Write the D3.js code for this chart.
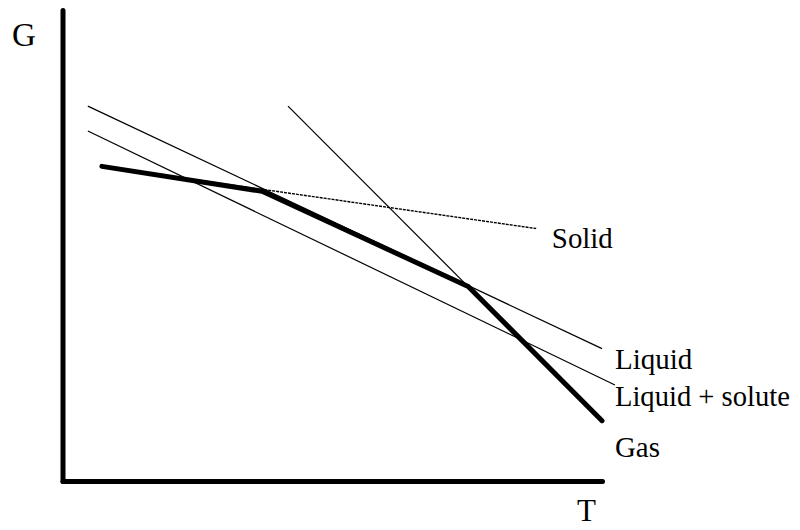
<!DOCTYPE html>
<html>
<head>
<meta charset="utf-8">
<script src="https://cdn.jsdelivr.net/npm/d3@7/dist/d3.min.js"></script>
<style>
  html, body { margin: 0; padding: 0; background: #fff; }
  text { font-family: "Liberation Serif", "Times New Roman", serif; fill: #000; }
</style>
</head>
<body>
<svg id="chart" width="800" height="530"></svg>
<script>
// Data (abstract units: T and G on 0..100)
const solidLine = [[7.3, 66.8], [87.8, 53.6]];
const liquidLine = [[4.7, 79.6], [100, 28.1]];
const liquidSoluteLine = [[4.7, 74.3], [102.4, 20.4]];
const gasLine = [[41.8, 79.6], [100, 12.8]];
const minEnvelope = [[7.3, 66.8], [37.0, 61.5], [75.2, 41.3], [100, 12.8]];
const seriesLabels = ["Solid", "Liquid", "Liquid + solute", "Gas"];
const labelPositions = [[90.7, 49.4], [102.4, 23.8], [102.4, 15.9], [102.4, 5.1]];
const axisLabels = ["G", "T"];

const svg = d3.select("#chart");
const x = d3.scaleLinear().domain([0, 100]).range([62.5, 602]);
const y = d3.scaleLinear().domain([0, 100]).range([481, 10]);

const line = d3.line().x(d => x(d[0])).y(d => y(d[1]));

// axes
svg.append("g").attr("transform", `translate(${x(0)},0)`)
  .call(d3.axisLeft(y).tickValues([]).tickSizeOuter(0));
svg.append("g").attr("transform", `translate(0,${y(0)})`)
  .call(d3.axisBottom(x).tickValues([]).tickSizeOuter(0));
svg.selectAll(".domain").attr("stroke", "#000").attr("stroke-width", 5)
  .attr("stroke-linecap", "round");

// thin lines
svg.append("path").datum(solidLine).attr("d", line)
  .attr("fill", "none").attr("stroke", "#000").attr("stroke-width", 1.4)
  .attr("stroke-dasharray", "3,1");
[liquidLine, liquidSoluteLine, gasLine].forEach(d => {
  svg.append("path").datum(d).attr("d", line)
    .attr("fill", "none").attr("stroke", "#000").attr("stroke-width", 1.2);
});

// thick envelope
svg.append("path").datum(minEnvelope).attr("d", line)
  .attr("fill", "none").attr("stroke", "#000").attr("stroke-width", 5)
  .attr("stroke-linecap", "round").attr("stroke-linejoin", "round");

// series labels
svg.selectAll("text.lab").data(seriesLabels).enter().append("text")
  .attr("class", "lab")
  .attr("x", (d, i) => x(labelPositions[i][0]))
  .attr("y", (d, i) => y(labelPositions[i][1]))
  .attr("font-size", 29)
  .attr("textLength", (d, i) => [61, 0, 175, 45][i] || null)
  .attr("lengthAdjust", "spacingAndGlyphs")
  .text(d => d);

// axis labels
svg.append("text").attr("x", 12).attr("y", 46).attr("font-size", 33).text(axisLabels[0]);
svg.append("text").attr("x", 577).attr("y", 521).attr("font-size", 31).text(axisLabels[1]);
</script>
</body>
</html>
